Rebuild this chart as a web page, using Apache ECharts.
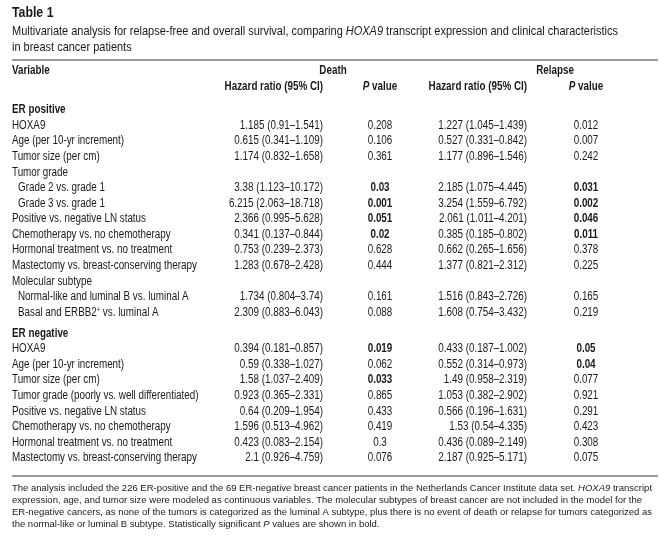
<!DOCTYPE html>
<html>
<head>
<meta charset="utf-8">
<script src="https://cdn.jsdelivr.net/npm/echarts@6/dist/echarts.min.js"></script>
<style>
  html, body { margin: 0; padding: 0; background: #fff; }
  #main { width: 667px; height: 556px; }
</style>
</head>
<body>
<div id="main"></div>
<script>
  // row labels and the kind of each row (section header, sub row, plain row)
  var variables = [
    'ER positive', 'HOXA9', 'Age (per 10-yr increment)', 'Tumor size (per cm)', 'Tumor grade',
    'Grade 2 vs. grade 1', 'Grade 3 vs. grade 1', 'Positive vs. negative LN status',
    'Chemotherapy vs. no chemotherapy', 'Hormonal treatment vs. no treatment',
    'Mastectomy vs. breast-conserving therapy', 'Molecular subtype',
    'Normal-like and luminal B vs. luminal A', 'Basal and ERBB2{sup|+} vs. luminal A',
    'ER negative', 'HOXA9', 'Age (per 10-yr increment)', 'Tumor size (per cm)',
    'Tumor grade (poorly vs. well differentiated)', 'Positive vs. negative LN status',
    'Chemotherapy vs. no chemotherapy', 'Hormonal treatment vs. no treatment',
    'Mastectomy vs. breast-conserving therapy'
  ];
  var rowKind = ['section', 'item', 'item', 'item', 'item', 'sub', 'sub', 'item', 'item', 'item', 'item', 'item', 'sub', 'sub',
                 'section', 'item', 'item', 'item', 'item', 'item', 'item', 'item', 'item'];

  var deathHR = ['', '1.185 (0.91–1.541)', '0.615 (0.341–1.109)', '1.174 (0.832–1.658)', '',
    '3.38 (1.123–10.172)', '6.215 (2.063–18.718)', '2.366 (0.995–5.628)', '0.341 (0.137–0.844)',
    '0.753 (0.239–2.373)', '1.283 (0.678–2.428)', '', '1.734 (0.804–3.74)', '2.309 (0.883–6.043)',
    '', '0.394 (0.181–0.857)', '0.59 (0.338–1.027)', '1.58 (1.037–2.409)', '0.923 (0.365–2.331)',
    '0.64 (0.209–1.954)', '1.596 (0.513–4.962)', '0.423 (0.083–2.154)', '2.1 (0.926–4.759)'];
  var deathP = ['', '0.208', '0.106', '0.361', '', '0.03', '0.001', '0.051', '0.02', '0.628', '0.444', '',
    '0.161', '0.088', '', '0.019', '0.062', '0.033', '0.865', '0.433', '0.419', '0.3', '0.076'];
  var deathBold = [0, 0, 0, 0, 0, 1, 1, 1, 1, 0, 0, 0, 0, 0, 0, 1, 0, 1, 0, 0, 0, 0, 0];

  var relapseHR = ['', '1.227 (1.045–1.439)', '0.527 (0.331–0.842)', '1.177 (0.896–1.546)', '',
    '2.185 (1.075–4.445)', '3.254 (1.559–6.792)', '2.061 (1.011–4.201)', '0.385 (0.185–0.802)',
    '0.662 (0.265–1.656)', '1.377 (0.821–2.312)', '', '1.516 (0.843–2.726)', '1.608 (0.754–3.432)',
    '', '0.433 (0.187–1.002)', '0.552 (0.314–0.973)', '1.49 (0.958–2.319)', '1.053 (0.382–2.902)',
    '0.566 (0.196–1.631)', '1.53 (0.54–4.335)', '0.436 (0.089–2.149)', '2.187 (0.925–5.171)'];
  var relapseP = ['', '0.012', '0.007', '0.242', '', '0.031', '0.002', '0.046', '0.011', '0.378', '0.225', '',
    '0.165', '0.219', '', '0.05', '0.04', '0.077', '0.921', '0.291', '0.423', '0.308', '0.075'];
  var relapseBold = [0, 0, 0, 0, 0, 1, 1, 1, 1, 0, 0, 0, 0, 0, 0, 1, 1, 0, 0, 0, 0, 0, 0];

  // no narrow font installed, so Liberation Sans is squeezed horizontally
  var face = '"Liberation Sans", Arial, sans-serif';
  var squeeze = 0.82;
  var ink = '#1a1a1a';

  // row position on the y axis: one unit per row, a little extra space before ER negative
  var rowPos = variables.map(function (v, i) { return i + (i >= 14 ? 0.35 : 0); });

  var chartDom = document.getElementById('main');
  var myChart = echarts.init(chartDom);

  function txt(text, x, y, align, bold, size) {
    size = size || 12;
    return {
      type: 'text', x: x, y: y, scaleX: squeeze,
      style: {
        text: text, x: 0, y: 0, align: align, verticalAlign: 'middle',
        font: (bold ? 'bold ' : '') + size + 'px ' + face, fill: ink,
        rich: {
          i: { fontStyle: 'italic', fontWeight: bold ? 'bold' : 'normal', fontFamily: face, fontSize: size, fill: ink },
          sup: { fontFamily: face, fontSize: 7, fill: ink, verticalAlign: 'top', padding: [0, 0, 5, 0] }
        }
      }
    };
  }

  function renderItem(params, api) {
    var i = params.dataIndex;
    var y = api.coord([0, api.value(1)])[1];
    var kind = rowKind[i];
    var kids = [];
    kids.push(txt(variables[i], kind === 'sub' ? 18 : 12, y, 'left', kind === 'section'));
    if (deathHR[i]) kids.push(txt(deathHR[i], 323, y, 'right', false));
    if (deathP[i]) kids.push(txt(deathP[i], 380, y, 'center', deathBold[i]));
    if (relapseHR[i]) kids.push(txt(relapseHR[i], 527, y, 'right', false));
    if (relapseP[i]) kids.push(txt(relapseP[i], 586, y, 'center', relapseBold[i]));
    return { type: 'group', children: kids };
  }

  var subtitle = txt('Multivariate analysis for relapse-free and overall survival, comparing {i|HOXA9} transcript expression and clinical characteristics\nin breast cancer patients', 12, 39, 'left', false, 13.4);
  subtitle.style.lineHeight = 16;

  var option = {
    animation: false,
    grid: { left: 0, right: 0, top: 110, height: 348 },
    xAxis: { type: 'value', min: 0, max: 1, show: false },
    yAxis: { type: 'value', inverse: true, min: 0, max: 22.35, show: false },
    series: [{
      type: 'custom',
      renderItem: renderItem,
      data: rowPos.map(function (p) { return [0, p]; })
    }],
    graphic: [
      txt('Table 1', 12, 13, 'left', true, 15),
      subtitle,
      { type: 'line', shape: { x1: 12, y1: 60, x2: 658, y2: 60 }, style: { stroke: '#9a9a9a', lineWidth: 2 } },
      txt('Variable', 12, 71, 'left', true),
      txt('Death', 333, 71, 'center', true),
      txt('Relapse', 555, 71, 'center', true),
      txt('Hazard ratio (95% CI)', 323, 87, 'right', true),
      txt('{i|P} value', 380, 87, 'center', true),
      txt('Hazard ratio (95% CI)', 527, 87, 'right', true),
      txt('{i|P} value', 586, 87, 'center', true),
      { type: 'line', shape: { x1: 12, y1: 476, x2: 658, y2: 476 }, style: { stroke: '#9a9a9a', lineWidth: 2 } },
      { type: 'text', x: 12, y: 482, style: {
          text: 'The analysis included the 226 ER-positive and the 69 ER-negative breast cancer patients in the Netherlands Cancer Institute data set. {i|HOXA9} transcript\n' +
                'expression, age, and tumor size were modeled as continuous variables. The molecular subtypes of breast cancer are not included in the model for the\n' +
                'ER-negative cancers, as none of the tumors is categorized as the luminal A subtype, plus there is no event of death or relapse for tumors categorized as\n' +
                'the normal-like or luminal B subtype. Statistically significant {i|P} values are shown in bold.',
          font: '9.5px ' + face, fill: ink, lineHeight: 12,
          rich: { i: { fontStyle: 'italic', fontFamily: face, fontSize: 9.5, fill: ink } }
        } }
    ]
  };
  option && myChart.setOption(option);
</script>
</body>
</html>
